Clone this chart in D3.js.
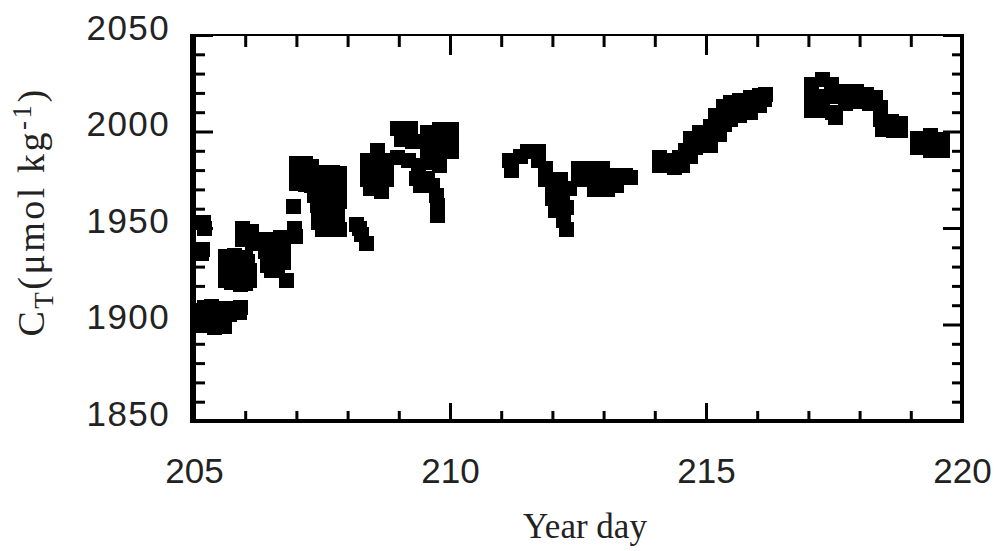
<!DOCTYPE html>
<html>
<head>
<meta charset="utf-8">
<script src="https://cdn.jsdelivr.net/npm/d3@7"></script>
<style>
  html, body { margin: 0; padding: 0; background: #fff; }
  svg { display: block; }
</style>
</head>
<body>
<svg id="chart" width="1000" height="551"></svg>
<script>
// Total dissolved inorganic carbon (C_T) against year day, [day, C_T] per sample
const leg205 = [
  [205.18, 1953.0], [205.21, 1950.0], [205.16, 1939.0], [205.14, 1937.0],
  [205.20, 1909.0], [205.35, 1909.5], [205.55, 1908.5], [205.74, 1908.5], [205.88, 1906.0],
  [205.20, 1903.0], [205.41, 1901.0], [205.60, 1899.0], [205.41, 1898.5],
  [205.12, 1907.5], [205.31, 1905.0], [205.51, 1903.4], [205.70, 1905.0], [205.90, 1909.0],
  [205.12, 1899.7], [205.61, 1907.5], [205.35, 1899.7]
];
const leg206 = [
  [205.61, 1935.0], [205.80, 1932.4], [205.66, 1927.2], [205.90, 1925.6], [205.74, 1922.0],
  [206.00, 1921.5], [206.09, 1928.2], [205.94, 1949.5], [206.13, 1948.0], [206.05, 1944.0],
  [205.80, 1936.0], [206.00, 1934.5], [205.61, 1929.8], [205.84, 1929.3], [206.05, 1932.4],
  [205.61, 1923.0], [205.90, 1920.5], [206.09, 1923.0], [205.94, 1943.8], [206.15, 1942.2],
  [206.45, 1944.0], [206.68, 1945.0], [206.52, 1937.6], [206.74, 1937.6], [206.43, 1930.8],
  [206.64, 1929.3], [206.80, 1923.0], [206.97, 1950.0], [206.99, 1945.6], [206.95, 1961.0],
  [206.56, 1941.2], [206.39, 1937.6], [206.64, 1934.5], [206.45, 1934.5], [206.74, 1931.9],
  [206.52, 1928.2], [206.25, 1943.8]
];
const leg207 = [
  [207.01, 1983.2], [207.17, 1983.2], [207.29, 1982.1], [207.01, 1978.0], [207.17, 1978.0],
  [207.29, 1977.0], [207.01, 1972.8], [207.17, 1972.3], [207.29, 1971.8],
  [207.52, 1979.0], [207.71, 1979.0], [207.85, 1978.0], [207.52, 1973.8], [207.71, 1973.8],
  [207.85, 1972.8], [207.52, 1968.7], [207.71, 1968.7], [207.85, 1967.6], [207.52, 1963.5],
  [207.71, 1963.5], [207.85, 1963.5], [207.36, 1966.6], [207.42, 1961.4],
  [207.44, 1957.3], [207.62, 1957.3], [207.81, 1957.3], [207.44, 1953.1], [207.62, 1952.1],
  [207.81, 1952.1], [207.50, 1949.0], [207.70, 1949.0], [207.85, 1949.0],
  [208.18, 1952.0], [208.24, 1949.5], [208.28, 1946.6], [208.36, 1942.2]
];
const leg209 = [
  [208.59, 1990.4], [208.38, 1985.2], [208.59, 1985.2], [208.75, 1985.2], [208.38, 1980.0],
  [208.59, 1980.0], [208.75, 1980.0], [208.38, 1974.9], [208.59, 1974.9], [208.75, 1974.9],
  [208.44, 1970.7], [208.67, 1968.7],
  [208.98, 2001.3], [209.22, 2001.3], [209.06, 1995.6], [209.26, 1994.6],
  [208.98, 1986.3], [209.18, 1985.2], [209.38, 1982.6],
  [209.57, 1999.7], [209.80, 2000.8], [210.02, 2000.8], [209.57, 1994.6], [209.80, 1994.6],
  [210.02, 1994.6], [209.57, 1989.4], [209.80, 1989.4], [210.02, 1989.4], [209.57, 1983.7],
  [209.80, 1982.6],
  [209.34, 1975.9], [209.57, 1975.9], [209.43, 1971.8], [209.65, 1971.8],
  [209.73, 1966.6], [209.75, 1961.4], [209.75, 1956.7]
];
const leg211 = [
  [211.17, 1985.2], [211.21, 1980.0], [211.37, 1986.8], [211.52, 1989.4], [211.72, 1989.4],
  [211.72, 1985.2], [211.86, 1981.0], [211.86, 1974.9], [212.00, 1970.7], [212.15, 1974.9],
  [212.01, 1965.5], [212.19, 1967.1], [212.34, 1970.7], [212.07, 1959.3], [212.27, 1960.4],
  [212.21, 1954.1], [212.27, 1949.0],
  [212.50, 1981.0], [212.73, 1981.0], [212.97, 1981.0], [212.50, 1974.9], [212.73, 1974.9],
  [212.97, 1974.9], [213.20, 1977.0], [213.42, 1977.0], [213.52, 1976.0], [212.83, 1970.2],
  [213.07, 1970.2], [213.26, 1971.8]
];
const leg214 = [
  [214.10, 1986.3], [214.10, 1982.6], [214.34, 1985.2], [214.39, 1981.6], [214.59, 1990.4],
  [214.69, 1996.6], [214.69, 1986.8], [214.88, 1993.0], [214.88, 1999.7], [215.08, 2002.8],
  [215.08, 1993.0], [215.27, 2006.0], [215.27, 1998.2], [215.47, 2014.8], [215.47, 2006.0],
  [215.66, 2016.3], [215.66, 2008.5], [215.86, 2017.4], [215.86, 2010.1], [216.05, 2018.9],
  [216.05, 2013.7], [216.17, 2019.4],
  [214.22, 1984.2], [214.49, 1986.3], [214.79, 1991.5], [214.98, 1996.6], [215.18, 1999.7],
  [215.37, 2003.4], [215.57, 2011.1], [215.76, 2013.7], [215.96, 2015.3], [216.15, 2016.8],
  [214.55, 1982.6], [215.35, 2013.2], [215.18, 2008.5]
];
const leg217 = [
  [217.07, 2024.1], [217.27, 2026.7], [217.46, 2024.1], [217.07, 2017.9], [217.27, 2017.9],
  [217.50, 2017.9], [217.07, 2011.1], [217.27, 2011.1], [217.48, 2010.0], [217.52, 2007.0],
  [217.71, 2020.5], [217.93, 2020.5], [218.13, 2019.4], [218.32, 2017.4], [217.73, 2014.3],
  [217.97, 2015.3], [218.20, 2014.3], [218.40, 2012.2], [218.40, 2006.0], [218.63, 2005.0],
  [218.79, 2004.0], [218.44, 2000.8], [218.67, 2000.3], [218.79, 2000.3],
  [219.14, 1996.6], [219.38, 1997.7], [219.61, 1995.6], [219.14, 1991.5], [219.38, 1990.4],
  [219.61, 1990.4], [219.38, 1993.5]
];

const xTicks = [205, 210, 215, 220];
const yTicks = [1850, 1900, 1950, 2000, 2050];
const xMinor = [206, 207, 208, 209, 211, 212, 213, 214, 216, 217, 218, 219];
const yMinor = [1860, 1870, 1880, 1890, 1910, 1920, 1930, 1940, 1960, 1970, 1980, 1990, 2010, 2020, 2030, 2040];

const samples = [].concat(leg205, leg206, leg207, leg209, leg211, leg214, leg217);

const svg = d3.select("#chart");
const plotLeft = 194, plotRight = 962, plotTop = 35, plotBottom = 421;

const x = d3.scaleLinear().domain([205, 220]).range([plotLeft, plotRight]);
const y = d3.scaleLinear().domain([1850, 2050]).range([plotBottom, plotTop]);

// filled square markers
const size = 15;
svg.append("g")
  .attr("shape-rendering", "crispEdges")
  .selectAll("rect")
  .data(samples)
  .join("rect")
  .attr("x", d => Math.round(x(d[0]) - size / 2))
  .attr("y", d => Math.round(y(d[1]) - size / 2))
  .attr("width", size)
  .attr("height", size)
  .attr("fill", "#000");

function styleAxis(g) {
  g.select(".domain").remove();
  g.selectAll(".tick line").attr("stroke", "#000").attr("stroke-width", 3);
}

// inward ticks on all four sides
svg.append("g").attr("transform", `translate(0,${plotBottom})`)
  .call(d3.axisBottom(x).tickValues(xMinor).tickSize(-10).tickFormat(""))
  .call(styleAxis);
svg.append("g").attr("transform", `translate(0,${plotTop})`)
  .call(d3.axisTop(x).tickValues(xMinor).tickSize(-12).tickFormat(""))
  .call(styleAxis);
svg.append("g").attr("transform", `translate(0,${plotTop})`)
  .call(d3.axisTop(x).tickValues(xTicks).tickSize(-20).tickFormat(""))
  .call(styleAxis);
svg.append("g").attr("transform", `translate(${plotLeft},0)`)
  .call(d3.axisLeft(y).tickValues(yMinor).tickSize(-11).tickFormat(""))
  .call(styleAxis);
svg.append("g").attr("transform", `translate(${plotRight},0)`)
  .call(d3.axisRight(y).tickValues(yMinor).tickSize(-10).tickFormat(""))
  .call(styleAxis);
svg.append("g").attr("transform", `translate(${plotRight},0)`)
  .call(d3.axisRight(y).tickValues(yTicks).tickSize(-19).tickFormat(""))
  .call(styleAxis);

// labelled axes
const xAxis = svg.append("g").attr("transform", `translate(0,${plotBottom})`)
  .call(d3.axisBottom(x).tickValues(xTicks).tickSize(-18).tickPadding(37).tickFormat(d3.format("d")))
  .call(styleAxis);
xAxis.selectAll("text")
  .attr("font-family", "'Liberation Sans', Arial, sans-serif")
  .attr("font-size", 35).attr("fill", "#222");

const yAxis = svg.append("g").attr("transform", `translate(${plotLeft},0)`)
  .call(d3.axisLeft(y).tickValues(yTicks).tickSize(-19).tickPadding(24).tickFormat(d3.format("d")))
  .call(styleAxis);
yAxis.selectAll("text")
  .attr("dy", "0.12em")
  .attr("font-family", "'Liberation Sans', Arial, sans-serif")
  .attr("font-size", 35).attr("letter-spacing", 1.4).attr("fill", "#222");

// plot frame
svg.append("line").attr("x1", 193).attr("x2", 193).attr("y1", plotTop - 1).attr("y2", plotBottom + 2)
  .attr("stroke", "#000").attr("stroke-width", 6);
svg.append("line").attr("x1", 190).attr("x2", plotRight + 2).attr("y1", plotBottom).attr("y2", plotBottom)
  .attr("stroke", "#000").attr("stroke-width", 4);
svg.append("line").attr("x1", 190).attr("x2", plotRight + 2).attr("y1", plotTop).attr("y2", plotTop)
  .attr("stroke", "#000").attr("stroke-width", 2);
svg.append("line").attr("x1", plotRight).attr("x2", plotRight).attr("y1", plotTop - 1).attr("y2", plotBottom + 2)
  .attr("stroke", "#000").attr("stroke-width", 4);

// axis titles
svg.append("text")
  .attr("x", 585).attr("y", 538)
  .attr("text-anchor", "middle")
  .attr("font-family", "'Liberation Serif', 'Times New Roman', serif")
  .attr("font-size", 35).attr("fill", "#222")
  .text("Year day");

const yt = svg.append("text")
  .attr("transform", "translate(44,212) rotate(-90)")
  .attr("text-anchor", "middle")
  .attr("font-family", "'Liberation Serif', 'Times New Roman', serif")
  .attr("font-size", 38).attr("letter-spacing", 2.5).attr("fill", "#222");
yt.append("tspan").text("C");
yt.append("tspan").attr("font-size", 27).attr("dy", 9).text("T");
yt.append("tspan").attr("dy", -9).text("(μmol kg");
yt.append("tspan").attr("font-size", 27).attr("dy", -13).text("-1");
yt.append("tspan").attr("dy", 13).text(")");
</script>
</body>
</html>
